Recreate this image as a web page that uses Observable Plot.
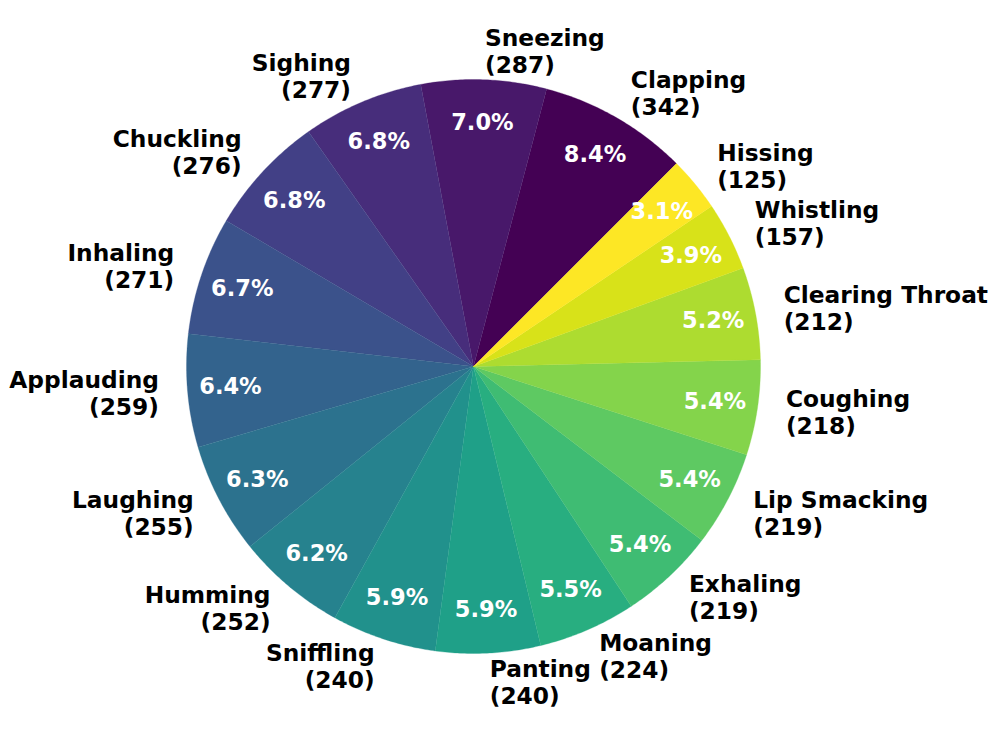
<!DOCTYPE html>
<html>
<head>
<meta charset="utf-8">
<script src="https://cdn.jsdelivr.net/npm/d3@7"></script>
<script src="https://cdn.jsdelivr.net/npm/@observablehq/plot@0.6"></script>
<style>
  html, body { margin: 0; padding: 0; background: #fff; }
  #chart { width: 997px; height: 735px; }
</style>
</head>
<body>
<div id="chart"></div>
<script>
// ---- data ----
const categories = ["Clapping", "Sneezing", "Sighing", "Chuckling", "Inhaling", "Applauding",
  "Laughing", "Humming", "Sniffling", "Panting", "Moaning", "Exhaling", "Lip Smacking",
  "Coughing", "Clearing Throat", "Whistling", "Hissing"];
const counts = [342, 287, 277, 276, 271, 259, 255, 252, 240, 240, 224, 219, 219, 218, 212, 157, 125];

// ---- layout ----
const W = 997, H = 735;
const CX = 473, CY = 366, R = 287;   // pixel center and radius
const START = 45;                     // degrees, counterclockwise
const LABEL_DIST = 1.1, PCT_DIST = 0.85;

const total = d3.sum(counts);
const n = categories.length;

// slice angles (counterclockwise from START)
let acc = START;
const slices = categories.map((name, i) => {
  const sweep = counts[i] / total * 360;
  const a0 = acc, a1 = acc + sweep;
  acc = a1;
  return {name, value: counts[i], a0, a1, mid: (a0 + a1) / 2};
});

const rad = d => d * Math.PI / 180;

// polygon points for each slice
const polyPts = [];
for (const s of slices) {
  polyPts.push({name: s.name, x: 0, y: 0});
  const steps = Math.max(2, Math.ceil((s.a1 - s.a0) / 0.5));
  for (let k = 0; k <= steps; k++) {
    const a = rad(s.a0 + (s.a1 - s.a0) * k / steps);
    polyPts.push({name: s.name, x: Math.cos(a), y: Math.sin(a)});
  }
  polyPts.push({name: s.name, x: 0, y: 0});
}

const labels = slices.map(s => ({
  name: s.name,
  text: `${s.name}\n(${s.value})`,
  x: LABEL_DIST * Math.cos(rad(s.mid)),
  y: LABEL_DIST * Math.sin(rad(s.mid))
}));
const pcts = slices.map(s => ({
  text: `${(s.value / total * 100).toFixed(1)}%`,
  x: PCT_DIST * Math.cos(rad(s.mid)),
  y: PCT_DIST * Math.sin(rad(s.mid))
}));

const colors = categories.map((d, i) => d3.interpolateViridis(i / (n - 1)));

const font = "DejaVu Sans, sans-serif";
const LABEL_SIZE = 23.3;

const chart = Plot.plot({
  width: W,
  height: H,
  margin: 0,
  style: {background: "white", fontFamily: font},
  x: {domain: [-CX / R, (W - CX) / R], range: [0, W], axis: null},
  y: {domain: [-(H - CY) / R, CY / R], range: [H, 0], axis: null},
  color: {domain: categories, range: colors},
  marks: [
    Plot.line(polyPts, {x: "x", y: "y", z: "name", fill: "name", stroke: "name", strokeWidth: 0.3, curve: "linear"}),
    Plot.text(pcts, {x: "x", y: "y", text: "text", fill: "white", fontSize: 22.5, fontWeight: "bold", fontFamily: font}),
    Plot.text(labels.filter(d => d.x >= 0), {x: "x", y: "y", text: "text", textAnchor: "start", lineAnchor: "middle", lineHeight: 1.16, fill: "black", fontSize: LABEL_SIZE, fontWeight: "bold", fontFamily: font}),
    Plot.text(labels.filter(d => d.x < 0), {x: "x", y: "y", text: "text", textAnchor: "end", lineAnchor: "middle", lineHeight: 1.16, fill: "black", fontSize: LABEL_SIZE, fontWeight: "bold", fontFamily: font})
  ]
});

document.getElementById("chart").appendChild(chart);
</script>
</body>
</html>
